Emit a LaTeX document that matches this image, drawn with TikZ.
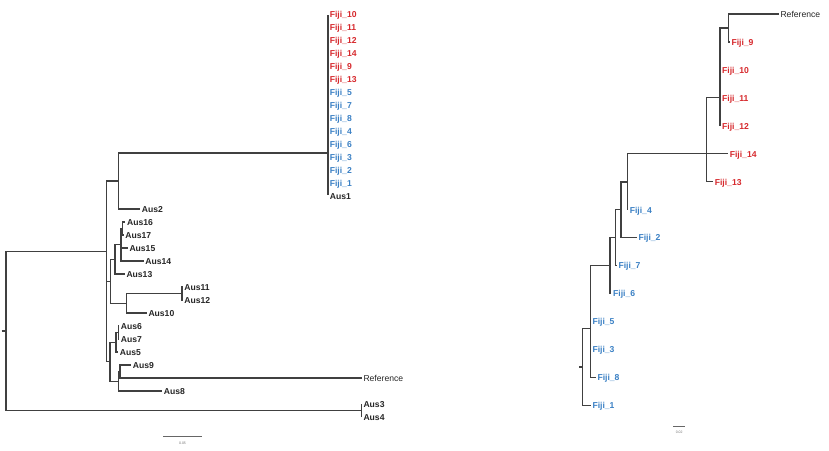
\documentclass[tikz,border=0pt]{standalone}
\usepackage{fontspec}
\setmainfont{Liberation Sans}
\definecolor{fjred}{RGB}{214,40,44}
\definecolor{fjblue}{RGB}{58,128,196}
\begin{document}
\begin{tikzpicture}[x=1pt,y=-1pt,
  br/.style={line width=1.1pt,draw=black!75},
  lab/.style={anchor=west,inner sep=1.6pt,text height=6.2pt,text depth=0pt,
    font=\fontsize{8.6}{10}\selectfont\bfseries},
  labr/.style={lab,text=fjred},
  labb/.style={lab,text=fjblue},
  labk/.style={lab,text=black!85},
  labref/.style={lab,text=black!85,font=\fontsize{8.6}{10}\selectfont},
  sbar/.style={line width=0.8pt,draw=black!60},
  sbtxt/.style={inner sep=0pt,text=black!55,font=\fontsize{3.5}{3.5}\selectfont}]
\useasboundingbox (0,0) rectangle (829,450);

% left tree
\coordinate (rootT) at (1.5,331);
\coordinate (root) at (6,331);
\coordinate (n1) at (106.3,251.7);
\coordinate (n34) at (361.7,410.5);
\coordinate (n2) at (118.7,181);
\coordinate (cFJ) at (328,153);
\coordinate (nA) at (110.3,281.3);
\coordinate (nB) at (115,259.4);
\coordinate (nC) at (126.7,303.3);
\coordinate (nD) at (121,244.8);
\coordinate (nE) at (122.5,228.5);
\coordinate (nF) at (182,293.5);
\coordinate (nI) at (110,361.8);
\coordinate (nH) at (116,342.3);
\coordinate (nG) at (118.3,332.5);
\coordinate (nJ) at (118.3,381.3);
\coordinate (nK) at (120,371.5);

\node[labr] (lf10) at (328,14) {Fiji\_10};
\node[labr] (lf11) at (328,27) {Fiji\_11};
\node[labr] (lf12) at (328,40) {Fiji\_12};
\node[labr] (lf14) at (328,53) {Fiji\_14};
\node[labr] (lf9) at (328,66) {Fiji\_9};
\node[labr] (lf13) at (328,79) {Fiji\_13};
\node[labb] (lf5) at (328,92) {Fiji\_5};
\node[labb] (lf7) at (328,105) {Fiji\_7};
\node[labb] (lf8) at (328,118) {Fiji\_8};
\node[labb] (lf4) at (328,131) {Fiji\_4};
\node[labb] (lf6) at (328,144) {Fiji\_6};
\node[labb] (lf3) at (328,157) {Fiji\_3};
\node[labb] (lf2) at (328,170) {Fiji\_2};
\node[labb] (lf1) at (328,183) {Fiji\_1};
\node[labk] (aus1) at (328,196) {Aus1};
\node[labk] (aus2) at (140,209) {Aus2};
\node[labk] (aus16) at (125.3,222) {Aus16};
\node[labk] (aus17) at (123.5,235) {Aus17};
\node[labk] (aus15) at (127.7,248) {Aus15};
\node[labk] (aus14) at (143.5,261) {Aus14};
\node[labk] (aus13) at (124.7,274) {Aus13};
\node[labk] (aus11) at (182.5,287) {Aus11};
\node[labk] (aus12) at (182.5,300) {Aus12};
\node[labk] (aus10) at (146.7,313) {Aus10};
\node[labk] (aus6) at (119,326) {Aus6};
\node[labk] (aus7) at (119,339) {Aus7};
\node[labk] (aus5) at (118,352) {Aus5};
\node[labk] (aus9) at (131,365) {Aus9};
\node[labref] (lref) at (361.7,378) {Reference};
\node[labk] (aus8) at (162,391) {Aus8};
\node[labk] (aus3) at (361.7,404) {Aus3};
\node[labk] (aus4) at (361.7,417) {Aus4};

\draw[br] (rootT) -- (root);
\draw[br] (root) |- (n1);
\draw[br] (root) |- (n34);
\draw[br] (n34) |- (aus3.west);
\draw[br] (n34) |- (aus4.west);
\draw[br] (n1) |- (n2);
\draw[br] (n1) |- (nA);
\draw[br] (n1) |- (nI);
\draw[br] (n2) |- (cFJ);
\draw[br] (n2) |- (aus2.west);
\draw[br] ([yshift=-1pt]lf10.west) -- ([yshift=1pt]aus1.west);
\draw[br] (nA) |- (nB);
\draw[br] (nA) |- (nC);
\draw[br] (nB) |- (nD);
\draw[br] (nB) |- (aus13.west);
\draw[br] (nD) |- (nE);
\draw[br] (nD) |- (aus15.west);
\draw[br] (nD) |- (aus14.west);
\draw[br] (nE) |- (aus16.west);
\draw[br] (nE) |- (aus17.west);
\draw[br] (nC) |- (nF);
\draw[br] (nC) |- (aus10.west);
\draw[br] (nF) |- (aus11.west);
\draw[br] (nF) |- (aus12.west);
\draw[br] (nI) |- (nH);
\draw[br] (nI) |- (nJ);
\draw[br] (nH) |- (nG);
\draw[br] (nH) |- (aus5.west);
\draw[br] (nG) |- (aus6.west);
\draw[br] (nG) |- (aus7.west);
\draw[br] (nJ) |- (nK);
\draw[br] (nJ) |- (aus8.west);
\draw[br] (nK) |- (aus9.west);
\draw[br] (nK) |- (lref.west);

\coordinate (sbL1) at (163.3,436.7);
\coordinate (sbL2) at (201.7,436.7);
\draw[sbar] (sbL1) -- (sbL2);
\node[sbtxt] (sbLtxt) at (182.5,443.5) {0.05};

% right tree
\coordinate (rrootT) at (579,367);
\coordinate (nS) at (582.7,367);
\coordinate (nR) at (590.7,328.3);
\coordinate (nQ) at (610,265.8);
\coordinate (nP) at (615.7,237.5);
\coordinate (nO) at (621,209.5);
\coordinate (nN) at (627.3,182);
\coordinate (nM) at (706.7,153.9);
\coordinate (nV) at (720,97.9);
\coordinate (nL) at (728.3,28);

\node[labref] (rref) at (778.7,14) {Reference};
\node[labr] (rf9) at (729.7,42) {Fiji\_9};
\node[labr] (rf10) at (720.3,70) {Fiji\_10};
\node[labr] (rf11) at (720.3,97.9) {Fiji\_11};
\node[labr] (rf12) at (720.3,125.9) {Fiji\_12};
\node[labr] (rf14) at (728,153.9) {Fiji\_14};
\node[labr] (rf13) at (713,181.9) {Fiji\_13};
\node[labb] (rf4) at (628,209.9) {Fiji\_4};
\node[labb] (rf2) at (636.7,237.8) {Fiji\_2};
\node[labb] (rf7) at (616.7,265.8) {Fiji\_7};
\node[labb] (rf6) at (611.3,293.8) {Fiji\_6};
\node[labb] (rf5) at (590.7,321.8) {Fiji\_5};
\node[labb] (rf3) at (590.7,349.8) {Fiji\_3};
\node[labb] (rf8) at (595.7,377.7) {Fiji\_8};
\node[labb] (rf1) at (590.7,405.7) {Fiji\_1};

\draw[br] (rrootT) -- (nS);
\draw[br] (nS) |- (nR);
\draw[br] (nS) |- (rf1.west);
\draw[br] (nR) |- (nQ);
\draw[br] (nR) |- (rf5.west);
\draw[br] (nR) |- (rf3.west);
\draw[br] (nR) |- (rf8.west);
\draw[br] (nQ) |- (nP);
\draw[br] (nQ) |- (rf6.west);
\draw[br] (nP) |- (nO);
\draw[br] (nP) |- (rf7.west);
\draw[br] (nO) |- (nN);
\draw[br] (nO) |- (rf2.west);
\draw[br] (nN) |- (nM);
\draw[br] (nN) |- (rf4.west);
\draw[br] (nM) |- (nV);
\draw[br] (nM) |- (rf14.west);
\draw[br] (nM) |- (rf13.west);
\draw[br] (nV) |- (nL);
\draw[br] (nV) |- (rf10.west);
\draw[br] (nV) |- (rf11.west);
\draw[br] (nV) |- (rf12.west);
\draw[br] (nL) |- (rref.west);
\draw[br] (nL) |- (rf9.west);

\coordinate (sbR1) at (673.3,426.7);
\coordinate (sbR2) at (685,426.7);
\draw[sbar] (sbR1) -- (sbR2);
\node[sbtxt] (sbRtxt) at (679.2,432.5) {0.02};
\end{tikzpicture}
\end{document}
